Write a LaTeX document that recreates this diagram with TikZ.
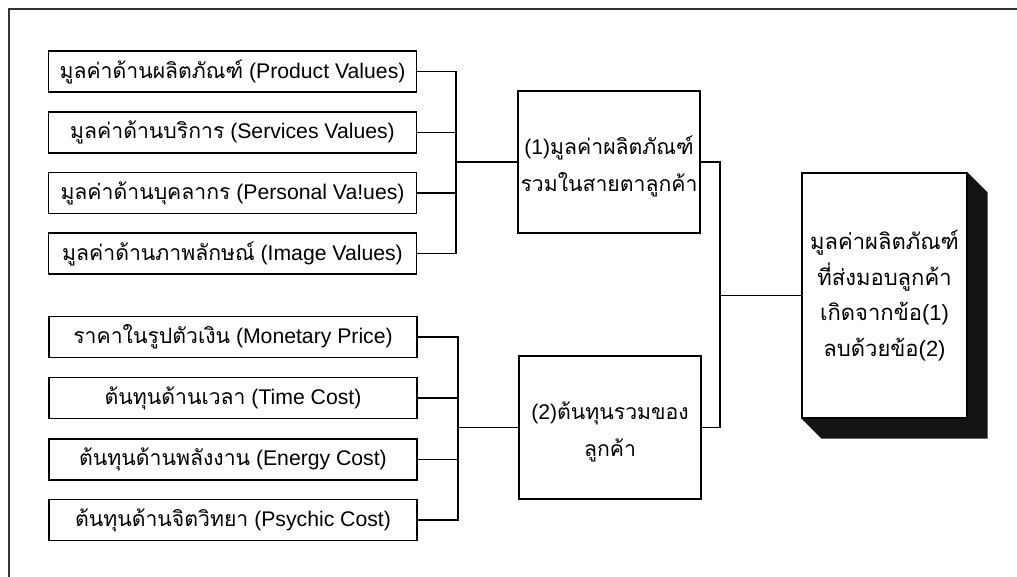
\documentclass[tikz,border=0pt]{standalone}
\usepackage{fontspec}
\setmainfont{Liberation Sans}
\newfontfamily\thai[Script=Thai]{Loma}
\newcommand{\tht}[1]{{\thai #1}}
\usetikzlibrary{calc}
\begin{document}
\begin{tikzpicture}[x=1pt,y=-1pt,
  every node/.style={inner sep=0pt},
  item/.style={draw,line width=1.1pt,minimum width=368pt,minimum height=41pt,font=\fontsize{21.2}{24}\selectfont},
  group/.style={draw,line width=1.1pt,minimum width=182pt,minimum height=142pt},
  grouptext/.style={align=center,font=\fontsize{21.2}{37}\selectfont},
  result/.style={draw,line width=1.1pt,fill=white,minimum width=165pt,minimum height=245pt,align=center,font=\fontsize{22}{35.5}\selectfont},
  link/.style={line width=1.1pt}]
\useasboundingbox (0,0) rectangle (1017,576);
% outer frame (runs off the page on the right and bottom)
\draw[line width=1.6pt,black!80] (9,600) -- (9,9) -- (1030,9);

% value items
\node[item] (v1) at (232.5,71.5)  {\tht{มูลค่าด้านผลิตภัณฑ์} (Product Values)};
\node[item] (v2) at (232.5,132.5) {\tht{มูลค่าด้านบริการ} (Services Values)};
\node[item] (v3) at (232.5,193)   {\tht{มูลค่าด้านบุคลากร} (Personal Va!ues)};
\node[item] (v4) at (232.5,253.5) {\tht{มูลค่าด้านภาพลักษณ์} (Image Values)};
% cost items
\node[item] (c1) at (233,337)   {\tht{ราคาในรูปตัวเงิน} (Monetary Price)};
\node[item] (c2) at (233,398)   {\tht{ต้นทุนด้านเวลา} (Time Cost)};
\node[item] (c3) at (233,459.5) {\tht{ต้นทุนด้านพลังงาน} (Energy Cost)};
\node[item] (c4) at (233,520)   {\tht{ต้นทุนด้านจิตวิทยา} (Psychic Cost)};

% totals
\node[group] (tv) at (609,162) {};
\node[grouptext] (tvt) at ($(tv.center)+(0,4)$) {(1)\tht{มูลค่าผลิตภัณฑ์}\\\tht{รวมในสายตาลูกค้า}};
\node[group,minimum height=143pt] (tc) at (610,427.5) {};
\node[grouptext] (tct) at ($(tc.center)+(0,4)$) {(2)\tht{ต้นทุนรวมของ}\\\tht{ลูกค้า}};

% delivered value box with extruded shadow
\node[result] (dv) at (884.5,295.5) {};
\fill[black!92] (dv.north east) -- ++(20,20) -- ($(dv.south east)+(20,20)$)
  -- ($(dv.south west)+(20,20)$) -- (dv.south west) -- (dv.south east) -- cycle;
\node[result] (dvf) at (dv) {\tht{มูลค่าผลิตภัณฑ์}\\\tht{ที่ส่งมอบลูกค้า}\\\tht{เกิดจากข้อ}(1)\\\tht{ลบด้วยข้อ}(2)};

% brackets
\coordinate (bv) at (456,162);
\coordinate (bc) at (458,427.5);
\coordinate (bd) at (720,295.5);
\foreach \n in {v1,v2,v3,v4} \draw[link] (\n.east) -| (bv);
\foreach \n in {c1,c2,c3,c4} \draw[link] (\n.east) -| (bc);
\draw[link] (bv) -- (tv.west);
\draw[link] (bc) -- (tc.west);
\draw[link] (tv.east) -| (bd);
\draw[link] (tc.east) -| (bd);
\draw[link] (bd) -- (dvf.west);
\end{tikzpicture}
\end{document}
